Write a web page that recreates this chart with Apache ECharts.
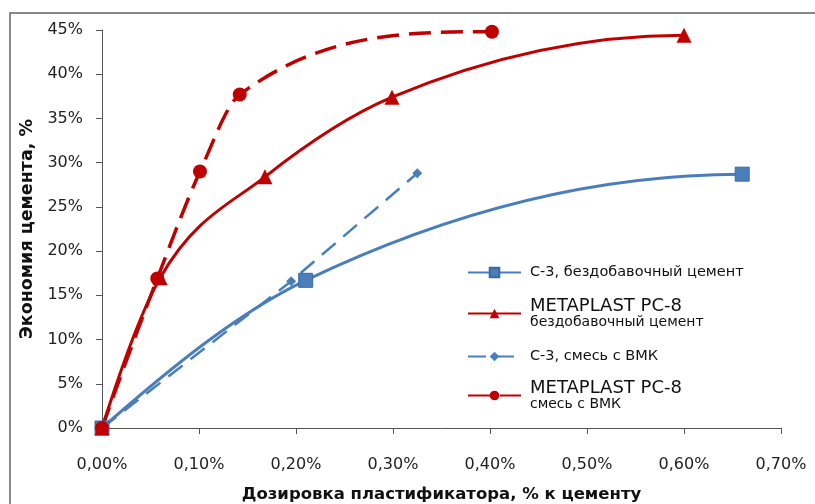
<!DOCTYPE html>
<html><head><meta charset="utf-8">
<script src="https://cdn.jsdelivr.net/npm/echarts@6/dist/echarts.min.js"></script>
<style>html,body{margin:0;padding:0;background:#fff}#c{width:815px;height:504px}</style>
</head><body><div id="c"></div>
<script>
const xTicks = [0, 0.1, 0.2, 0.3, 0.4, 0.5, 0.6, 0.7];
const yTicks = [0, 5, 10, 15, 20, 25, 30, 35, 40, 45];
const c3PlainX = [0, 0.21, 0.66];
const c3PlainY = [0, 16.7, 28.7];
const mpPlainX = [0, 0.06, 0.168, 0.299, 0.6];
const mpPlainY = [0, 17.0, 28.4, 37.4, 44.4];
const c3MixX = [0, 0.195, 0.325];
const c3MixY = [0, 16.6, 28.8];
const mpMixX = [0, 0.057, 0.101, 0.142, 0.402];
const mpMixY = [0, 16.9, 29.0, 37.7, 44.8];
const names = ['С-3, бездобавочный цемент', 'METAPLAST PC-8 бездобавочный цемент', 'С-3, смесь с ВМК', 'METAPLAST PC-8 смесь с ВМК'];

const pair = (xs, ys) => xs.map((x, i) => [x, ys[i]]);
const BLUE = '#4A7EBB', RED = '#C00000';
const font = '"DejaVu Sans", sans-serif';

// cubic slopes: mean of Bessel and Fritsch–Carlson, kept monotone; flat end at the last point
function slopes(xs, ys) {
  const n = xs.length, h = [], s = [], m = new Array(n).fill(0);
  for (let i = 0; i < n - 1; i++) { h[i] = xs[i + 1] - xs[i]; s[i] = (ys[i + 1] - ys[i]) / h[i]; }
  for (let i = 1; i < n - 1; i++) {
    if (s[i - 1] * s[i] <= 0) { m[i] = 0; continue; }
    const w1 = 2 * h[i] + h[i - 1], w2 = h[i] + 2 * h[i - 1];
    const fc = (w1 + w2) / (w1 / s[i - 1] + w2 / s[i]);
    const bessel = (h[i] * s[i - 1] + h[i - 1] * s[i]) / (h[i - 1] + h[i]);
    let v = (fc + bessel) / 2;
    const lim = 3 * Math.min(Math.abs(s[i - 1]), Math.abs(s[i]));
    if (Math.abs(v) > lim) v = Math.sign(v) * lim;
    m[i] = v;
  }
  let m0 = ((2 * h[0] + h[1]) * s[0] - h[0] * s[1]) / (h[0] + h[1]);
  if (m0 * s[0] <= 0) m0 = 0; else if (Math.abs(m0) > 3 * Math.abs(s[0])) m0 = 3 * s[0];
  m[0] = m0;
  m[n - 1] = 0;
  return m;
}
function curveSeries(id, xs, ys, color, width, dash, z) {
  const m = slopes(xs, ys);
  return {
    type: 'custom', name: id, silent: true, z: z, data: [[xs[0], ys[0]]],
    renderItem: (params, api) => {
      const p0 = api.coord([xs[0], ys[0]]);
      let d = 'M' + p0[0] + ',' + p0[1];
      for (let i = 0; i < xs.length - 1; i++) {
        const h = xs[i + 1] - xs[i];
        const c1 = api.coord([xs[i] + h / 3, ys[i] + m[i] * h / 3]);
        const c2 = api.coord([xs[i + 1] - h / 3, ys[i + 1] - m[i + 1] * h / 3]);
        const p = api.coord([xs[i + 1], ys[i + 1]]);
        d += 'C' + c1.join(',') + ' ' + c2.join(',') + ' ' + p.join(',');
      }
      return { type: 'path', shape: { pathData: d },
        style: { fill: 'none', stroke: color, lineWidth: width, lineDash: dash || null, lineCap: 'butt' } };
    }
  };
}

const chart = echarts.init(document.getElementById('c'));
const legendRich = {
  a: { fontFamily: font, fontSize: 18, color: '#111', lineHeight: 18 },
  b: { fontFamily: font, fontSize: 14, color: '#111', lineHeight: 15 },
  s: { fontFamily: font, fontSize: 14.5, color: '#111' }
};
function legendFmt(n) {
  if (n.indexOf('METAPLAST') === 0) {
    return '{a|METAPLAST PC-8}\n{b|' + n.replace('METAPLAST PC-8 ', '') + '}';
  }
  return '{s|' + n + '}';
}
const legTops = [265, 297, 349, 379];
const legends = names.map((n, i) => ({
  data: [n], left: 467, top: legTops[i], orient: 'vertical',
  itemWidth: 53, itemHeight: 12, itemGap: 0, padding: 0,
  lineStyle: { opacity: 1 },
  formatter: legendFmt, textStyle: { rich: legendRich, padding: [0, 0, 0, 4] }
}));

chart.setOption({
  animation: false,
  backgroundColor: '#fff',
  graphic: [{ type: 'rect', shape: { x: 10, y: 13, width: 830, height: 520 },
    style: { fill: 'none', stroke: '#888', lineWidth: 2 }, silent: true }],
  grid: { left: 102, right: 34, top: 30, bottom: 76, outerBoundsMode: 'none', containLabel: false },
  legend: legends,
  xAxis: {
    type: 'value', min: 0, max: 0.7, interval: 0.1,
    name: 'Дозировка пластификатора, % к цементу', nameLocation: 'middle', nameGap: 58,
    nameTextStyle: { fontFamily: font, fontSize: 16.5, fontWeight: 'bold', color: '#111' },
    axisLine: { show: true, lineStyle: { color: '#555', width: 1 } },
    axisTick: { show: true, inside: false, length: 6, lineStyle: { color: '#555' } },
    splitLine: { show: false },
    axisLabel: { margin: 29, fontFamily: font, fontSize: 16, color: '#222',
      formatter: v => v.toFixed(2).replace('.', ',') + '%' }
  },
  yAxis: {
    type: 'value', min: 0, max: 45, interval: 5,
    name: 'Экономия цемента, %', nameLocation: 'middle', nameGap: 61, nameRotate: 90,
    nameTextStyle: { fontFamily: font, fontSize: 17.5, fontWeight: 'bold', color: '#111' },
    axisLine: { show: true, lineStyle: { color: '#555', width: 1 } },
    axisTick: { show: true, inside: false, length: 6, lineStyle: { color: '#555' } },
    splitLine: { show: false },
    axisLabel: { margin: 19, fontFamily: font, fontSize: 16, color: '#222', formatter: '{value}%' }
  },
  series: [
    curveSeries('c3PlainCurve', c3PlainX, c3PlainY, BLUE, 3, null, 2),
    curveSeries('mpPlainCurve', mpPlainX, mpPlainY, RED, 3, null, 3),
    curveSeries('mpMixCurve', mpMixX, mpMixY, RED, 3.5, [22, 10], 4),
    { name: names[0], type: 'line', data: pair(c3PlainX, c3PlainY),
      symbol: 'rect', symbolSize: 14, lineStyle: { color: BLUE, width: 3, opacity: 0 },
      itemStyle: { color: BLUE, borderColor: '#3A6AA5', borderWidth: 1 }, z: 5 },
    { name: names[2], type: 'line', data: pair(c3MixX, c3MixY),
      symbol: 'diamond', symbolSize: 10, lineStyle: { color: BLUE, width: 2.5, type: [18, 10] },
      itemStyle: { color: BLUE }, z: 2 },
    { name: names[1], type: 'line', data: pair(mpPlainX, mpPlainY),
      symbol: 'triangle', symbolSize: 15, lineStyle: { color: RED, width: 3, opacity: 0 },
      itemStyle: { color: RED }, z: 6 },
    { name: names[3], type: 'line', data: pair(mpMixX, mpMixY),
      symbol: 'circle', symbolSize: 14, lineStyle: { color: RED, width: 3.5, type: [22, 10], opacity: 0 },
      itemStyle: { color: RED }, z: 7 }
  ]
});
</script></body></html>
